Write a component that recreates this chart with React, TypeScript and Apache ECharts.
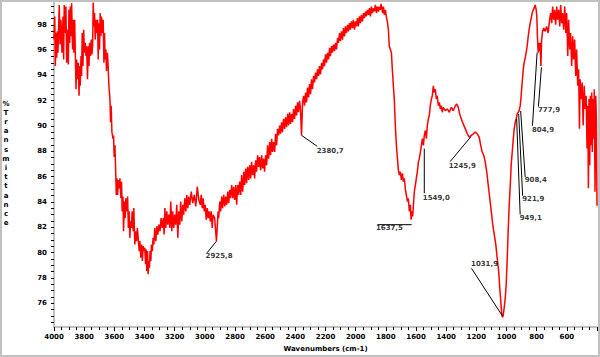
import { useEffect, useRef } from "react";
import * as echarts from "echarts";

// Spectrum: [wavenumber (cm-1), %Transmittance]
const spectrum: [number, number][] = [
  [4000,96.83],[3995,98.66],[3991,94.74],[3987,97.35],[3982,95.39],[3978,97.48],[3974,95.79],[3965,99.57],[3960,96.44],[3954,98.40],
  [3947,95.79],[3940,98.66],[3936,95.26],[3932,99.57],[3925,97.35],[3921,99.44],[3916,95.00],[3911,97.61],[3905,94.87],[3901,99.18],
  [3896,96.57],[3892,99.44],[3887,97.09],[3883,99.70],[3877,96.05],[3872,98.40],[3868,95.79],[3863,98.40],[3859,96.05],[3854,92.91],
  [3850,95.26],[3844,93.70],[3839,95.00],[3834,92.39],[3830,94.74],[3826,93.18],[3821,95.53],[3817,93.96],[3813,97.35],[3808,94.74],
  [3803,97.61],[3799,95.79],[3793,96.57],[3788,95.53],[3784,96.31],[3778,93.70],[3773,96.31],[3768,94.74],[3764,96.57],[3758,95.53],
  [3753,96.83],[3749,95.66],[3744,96.31],[3740,99.75],[3735,97.87],[3731,98.92],[3727,96.83],[3722,98.40],[3715,97.35],[3711,98.40],
  [3707,95.26],[3702,98.13],[3698,96.05],[3694,98.92],[3689,97.09],[3685,98.66],[3679,97.35],[3674,98.40],[3669,95.00],[3665,97.35],
  [3661,95.26],[3656,96.05],[3652,94.35],[3646,95.79],[3641,94.74],[3636,93.18],[3629,92.13],[3625,90.30],[3621,91.61],[3616,89.52],
  [3609,89.00],[3605,89.26],[3601,87.56],[3596,88.48],[3591,86.39],[3587,84.56],[3583,85.87],[3578,84.56],[3573,85.74],[3567,85.08],
  [3563,85.87],[3556,84.30],[3552,85.61],[3548,83.26],[3543,84.43],[3539,81.69],[3533,84.04],[3528,82.73],[3524,84.30],[3517,83.26],
  [3512,84.43],[3507,81.95],[3502,83.26],[3497,81.17],[3493,82.47],[3487,81.95],[3482,83.26],[3475,81.69],[3471,83.52],[3464,80.65],
  [3459,81.69],[3453,80.91],[3447,81.95],[3442,81.17],[3435,80.12],[3431,80.91],[3424,79.60],[3419,80.65],[3414,79.34],[3409,80.52],
  [3402,80.12],[3398,80.39],[3393,79.08],[3389,80.25],[3385,78.56],[3380,80.12],[3376,78.30],[3371,79.34],[3367,78.82],[3363,80.12],
  [3358,79.34],[3354,80.65],[3348,80.12],[3343,81.17],[3338,80.65],[3332,81.95],[3325,80.91],[3318,82.08],[3312,81.43],[3305,82.21],
  [3297,81.69],[3290,82.73],[3283,81.95],[3276,82.73],[3270,81.43],[3265,83.52],[3259,81.95],[3252,83.26],[3246,82.21],[3239,83.00],
  [3232,81.95],[3226,84.04],[3219,81.69],[3213,83.26],[3206,81.95],[3199,83.00],[3193,82.21],[3186,83.78],[3179,81.17],[3173,83.26],
  [3166,82.21],[3160,84.04],[3153,82.47],[3146,83.78],[3140,83.00],[3133,84.30],[3126,83.26],[3120,84.56],[3113,83.52],[3107,84.43],
  [3100,83.78],[3090,84.82],[3080,83.91],[3070,84.56],[3060,83.65],[3050,85.21],[3040,84.17],
  [3030,83.78],[3024,84.56],[3017,83.52],[3011,84.30],[3004,83.26],[2997,83.78],[2991,82.60],[2984,83.52],[2978,82.73],[2971,83.26],
  [2964,82.47],[2958,83.26],[2951,81.95],[2945,83.00],[2935,82.73],[2928,81.69],[2923,80.91],[2918,81.95],[2912,83.26],[2908,82.73],
  [2901,84.04],[2895,83.26],[2888,84.43],[2882,83.52],[2875,84.56],[2868,83.65],[2862,84.43],[2855,83.78],[2848,84.82],[2842,83.91],
  [2835,84.95],[2829,84.30],[2822,85.34],[2815,84.30],[2809,85.21],[2802,84.17],[2795,85.34],[2789,83.78],[2782,85.34],[2776,84.56],
  [2769,85.61],[2762,84.56],[2756,86.13],[2749,84.82],[2742,86.39],[2736,85.34],[2729,86.65],[2723,85.48],[2716,86.78],[2709,85.74],
  [2703,86.91],[2696,85.87],[2690,87.17],[2683,86.13],[2676,86.91],[2670,85.87],[2663,87.30],[2657,86.39],[2650,87.69],[2643,86.78],
  [2637,87.56],[2630,86.52],[2623,87.69],[2617,86.65],[2610,87.43],[2604,86.39],[2597,87.69],[2590,86.91],[2584,88.48],[2577,87.43],
  [2570,88.74],[2564,87.69],[2557,89.00],[2551,87.95],[2544,88.74],[2537,87.95],[2531,89.39],[2524,88.48],[2518,89.78],[2511,89.26],
  [2504,90.04],[2498,89.39],[2491,90.30],[2485,89.52],[2478,90.57],[2471,89.78],[2465,90.70],[2458,89.91],[2451,90.96],[2445,90.04],
  [2438,91.09],[2432,90.17],[2425,90.96],[2418,90.30],[2412,91.35],[2405,90.57],[2398,91.61],[2392,90.83],[2385,91.87],[2379,91.09],
  [2372,92.00],[2366,91.35],[2359,89.26],[2352,91.87],[2345,92.39],[2339,91.61],[2332,92.65],[2326,91.87],[2319,93.04],[2312,92.26],
  [2306,93.31],[2299,92.52],[2293,93.70],[2286,92.91],[2279,93.96],[2273,93.44],[2266,94.22],[2259,93.70],[2253,94.48],[2246,93.96],
  [2240,94.74],[2233,94.09],[2226,95.00],[2220,94.48],[2213,95.26],[2207,94.74],[2200,95.66],[2193,95.00],[2187,95.79],[2180,95.26],
  [2173,96.18],[2167,95.53],[2160,96.31],[2154,95.79],[2147,96.44],[2140,95.92],[2134,96.57],[2127,96.05],[2120,96.96],[2114,96.57],
  [2107,97.35],[2101,96.70],[2094,97.48],[2087,96.83],[2081,97.74],[2074,97.09],[2068,97.87],[2061,97.35],[2054,98.00],[2048,97.48],
  [2041,98.13],[2035,97.61],[2028,98.27],[2021,97.74],[2015,98.40],[2008,97.61],[2001,98.27],[1995,97.87],[1988,98.53],[1982,97.87],
  [1975,98.66],[1968,98.13],[1962,98.79],[1955,98.27],[1948,98.92],[1942,98.53],[1935,99.05],[1929,98.66],[1922,99.18],[1915,98.79],
  [1909,99.31],[1902,98.66],[1896,99.44],[1889,98.92],[1882,99.31],[1876,99.05],[1869,99.57],[1862,98.92],[1856,99.44],[1849,99.05],
  [1843,99.44],[1836,99.18],[1832,99.65],[1826,99.31],[1821,98.92],[1816,99.44],[1810,98.79],[1803,99.18],[1797,98.66],[1790,98.27],
  [1783,97.61],[1777,96.31],[1770,96.05],[1763,95.79],[1757,94.48],[1750,93.18],[1744,92.13],[1737,90.04],[1730,88.48],[1723,87.43],
  [1717,86.52],[1710,86.13],[1704,86.39],[1697,85.74],[1690,86.26],[1684,85.61],[1677,85.87],[1670,84.95],[1664,84.56],[1657,84.04],
  [1651,84.30],[1644,83.26],[1637,83.78],[1633,82.60],[1627,83.26],[1622,82.86],[1617,83.78],[1611,84.82],[1604,85.34],[1598,85.87],
  [1591,86.39],[1584,87.17],[1578,87.43],[1571,87.95],[1564,88.48],[1558,89.00],[1551,88.48],[1545,89.26],[1538,89.65],[1531,89.00],
  [1525,90.04],[1518,90.57],[1512,90.83],[1505,91.61],[1498,92.13],[1492,92.39],[1485,93.18],[1479,92.65],[1472,92.91],[1465,92.13],
  [1459,92.39],[1452,91.61],[1445,91.87],[1439,91.35],[1432,91.61],[1426,91.09],[1419,91.48],[1406,91.22],[1392,91.35],[1379,91.09],
  [1366,91.48],[1353,91.22],[1339,91.61],[1330,91.74],[1320,91.48],[1310,90.96],[1300,90.57],[1287,90.17],[1273,89.78],[1260,89.39],
  [1247,89.13],[1234,89.26],[1220,89.39],[1207,89.52],[1194,89.39],[1181,89.13],[1171,88.48],[1161,87.95],[1151,87.69],[1141,87.17],
  [1131,86.39],[1121,85.34],[1111,84.30],[1101,83.26],[1091,82.21],[1081,81.43],[1071,80.65],[1062,79.60],[1052,78.56],[1045,77.25],
  [1038,76.21],[1032,75.16],[1026,74.90],[1022,75.03],[1015,75.69],[1008,76.47],[1002,77.51],[995,79.60],[989,81.69],[982,83.78],
  [975,85.34],[969,86.91],[962,87.95],[955,89.00],[949,89.78],[942,90.30],[936,90.57],[929,90.96],[922,91.09],[916,91.22],
  [909,91.61],[903,92.39],[896,93.44],[889,94.48],[883,95.00],[876,95.39],[870,95.79],[863,96.31],[856,97.09],[850,97.61],
  [843,98.13],[836,98.53],[830,98.92],[823,99.18],[817,99.31],[810,99.57],[803,99.18],[799,98.66],[795,97.09],[790,95.79],
  [785,96.57],[781,95.92],[777,96.57],[772,94.74],[767,96.83],[761,97.48],[753,97.74],[743,97.48],[734,97.87],[724,97.35],
  [714,98.40],[707,98.92],[700,98.13],[694,99.44],[687,98.40],[681,99.18],[674,98.00],[667,99.44],[661,98.40],[654,99.18],
  [647,97.87],[641,99.57],[634,98.13],[628,98.92],[621,97.61],[614,99.44],[607,97.35],[601,98.92],[594,95.53],[588,98.40],
  [581,96.05],[575,97.35],[568,94.74],[561,97.09],[555,95.26],[548,96.83],[541,93.96],[535,96.05],[528,93.18],[522,94.48],
  [516,89.78],[512,93.70],[505,92.13],[498,93.44],[492,90.04],[485,93.18],[478,91.35],[472,92.39],[466,88.22],[461,91.61],
  [457,85.08],[453,92.13],[448,86.91],[444,92.39],[439,88.48],[435,92.65],[431,87.95],[426,92.13],[422,89.00],[418,92.91],
  [413,84.82],[408,92.39],[404,90.50],[400,83.70],
];

// Peak annotations
const peakTexts = ["2925,8", "2380,7", "1637,5", "1549,0", "1245,9", "1031,9", "949,1", "921,9", "908,4", "804,9", "777,9"];
const peakPoints: [number, number][] = [
  [2923, 80.91], [2358, 89.26], [1629, 82.21], [1545, 88.22], [1236, 89.16], [1026, 74.98],
  [932.6, 90.57], [919.4, 90.96], [906.2, 91.19], [797, 95.81], [768.4, 94.64],
];
const labelAnchors: [number, number][] = [
  [2985, 79.99], [2255, 88.40], [1856, 82.21], [1545, 84.69], [1373, 87.20], [1232, 78.76],
  [909.4, 83.01], [893, 84.50], [876.3, 85.98], [828, 90.02], [788.2, 91.54],
];

const xTickLabels = [4000, 3800, 3600, 3400, 3200, 3000, 2800, 2600, 2400, 2200, 2000, 1800, 1600, 1400, 1200, 1000, 800, 600];
const yTickLabels = [76, 78, 80, 82, 84, 86, 88, 90, 92, 94, 96, 98];

// label placement (styling): [dx, dy, verticalAlign]
const labelOffsets: [number, number, string][] = [
  [-1, 0.5, "top"], [0, 2, "top"], [-1, 0.5, "top"], [-1, 1.5, "top"], [-1, 1.5, "top"], [0, 0, "bottom"],
  [0, 0, "top"], [0, 0.5, "top"], [0, 0, "top"], [0, 1.5, "top"], [0, 0, "top"],
];

const FONT = "'DejaVu Sans', 'Liberation Sans', sans-serif";

export default function App() {
  const ref = useRef<HTMLDivElement>(null);

  useEffect(() => {
    if (!ref.current) return;
    const chart = echarts.init(ref.current, undefined, { renderer: "svg" });

    const yMinorTicks: number[] = [];
    for (let v = 74.5; v <= 99.5; v += 0.5) yMinorTicks.push(v);

    const textStyle = { color: "#000", fontSize: 7, fontWeight: "bold" as const, fontFamily: FONT };

    const annotationLines = peakPoints.map((p, i) => ({
      type: "line" as const,
      data: [p, labelAnchors[i]],
      symbol: "none",
      silent: true,
      animation: false,
      lineStyle: { color: "#000", width: 1 },
      z: 3,
    }));

    chart.setOption({
      animation: false,
      backgroundColor: "#fff",
      grid: { left: 54, right: 2, top: 2, bottom: 27, containLabel: false },
      xAxis: {
        type: "value",
        inverse: true,
        min: 400,
        max: 4000,
        interval: 200,
        name: "Wavenumbers (cm-1)",
        nameLocation: "middle",
        nameGap: 17,
        nameTextStyle: { ...textStyle },
        axisLine: { show: true, onZero: false, lineStyle: { color: "#c0c0c0", width: 2 } },
        axisTick: { show: true, length: 4, lineStyle: { color: "#000", width: 1 } },
        minorTick: { show: true, splitNumber: 4, length: 3, lineStyle: { color: "#000", width: 1 } },
        axisLabel: {
          ...textStyle,
          margin: 6,
          formatter: (v: number) => (xTickLabels.includes(v) ? String(v) : ""),
        },
        splitLine: { show: false },
        minorSplitLine: { show: false },
      },
      yAxis: {
        type: "value",
        min: 74.12,
        max: 99.8,
        axisLine: { show: true, onZero: false, lineStyle: { color: "#c0c0c0", width: 2 } },
        axisTick: { show: true, length: 3, customValues: yMinorTicks, lineStyle: { color: "#000", width: 1 } },
        axisLabel: { ...textStyle, margin: 7, customValues: yTickLabels },
        splitLine: { show: false },
      },
      graphic: [
        {
          type: "text",
          x: 6,
          y: 99,
          style: {
            text: "%\nT\nr\na\nn\ns\nm\ni\nt\nt\na\nn\nc\ne",
            fill: "#000",
            font: `bold 7px ${FONT}`,
            align: "center",
            verticalAlign: "top",
            lineHeight: 9.2,
          },
        },
        {
          type: "rect",
          z: 100,
          silent: true,
          shape: { x: 1, y: 1, width: 598, height: 355 },
          style: { fill: "none", stroke: "#c0c0c0", lineWidth: 2 },
        },
      ],
      series: [
        {
          type: "line",
          data: spectrum,
          symbol: "none",
          showSymbol: false,
          silent: true,
          lineStyle: { color: "#ff0000", width: 1.5 },
          z: 2,
        },
        ...annotationLines,
        {
          type: "scatter",
          symbolSize: 1,
          silent: true,
          itemStyle: { color: "rgba(0,0,0,0)" },
          z: 4,
          data: labelAnchors.map((a, i) => ({
            value: a,
            label: {
              show: true,
              formatter: peakTexts[i],
              position: [labelOffsets[i][0], labelOffsets[i][1]],
              align: "left",
              verticalAlign: labelOffsets[i][2],
              ...textStyle,
            },
          })),
        },
      ],
    });

    return () => chart.dispose();
  }, []);

  return (
    <div
      ref={ref}
      style={{ position: "fixed", left: 0, top: 0, width: 600, height: 357, background: "#fff" }}
    />
  );
}
